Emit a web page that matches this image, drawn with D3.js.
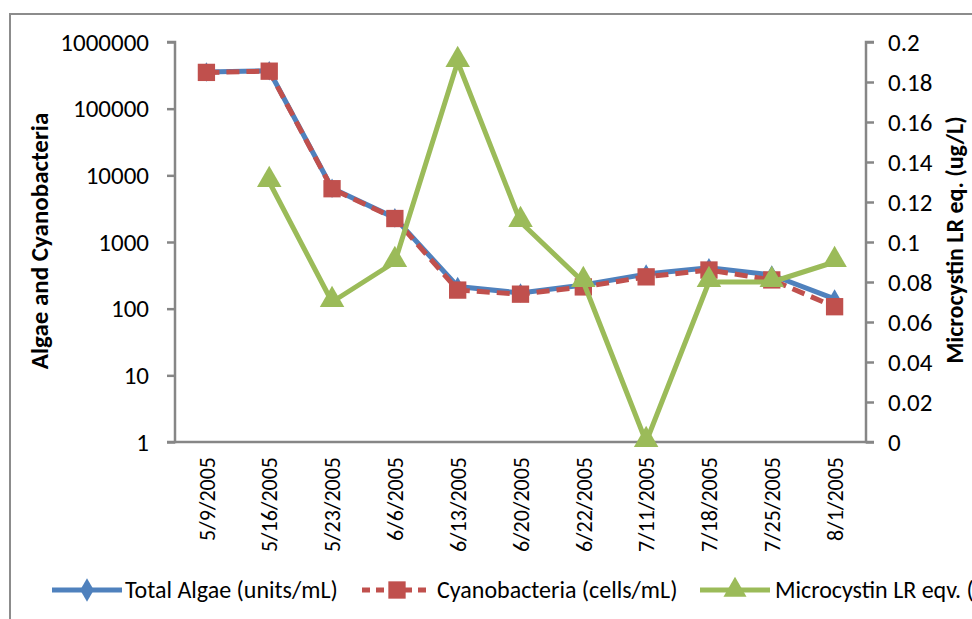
<!DOCTYPE html>
<html><head><meta charset="utf-8">
<script src="https://cdn.jsdelivr.net/npm/d3@7"></script>
<style>body{margin:0;background:#fff}svg{display:block}text{font-family:Carlito,Lato,sans-serif;fill:#000}</style>
</head><body><svg id="c" width="972" height="619"></svg>
<script>
const dates = ["5/9/2005","5/16/2005","5/23/2005","6/6/2005","6/13/2005","6/20/2005","6/22/2005","7/11/2005","7/18/2005","7/25/2005","8/1/2005"];
const totalAlgae = [355000, 370000, 6400, 2300, 215, 172, 226, 330, 410, 320, 140];
const cyanobacteria = [350000, 365000, 6300, 2250, 190, 165, 212, 300, 380, 270, 107];
const microcystin = [null, 0.13, 0.07, 0.09, 0.19, 0.11, 0.08, 0.0, 0.08, 0.08, 0.09];
const leftTicks = [1, 10, 100, 1000, 10000, 100000, 1000000];
const rightTicks = [0, 0.02, 0.04, 0.06, 0.08, 0.1, 0.12, 0.14, 0.16, 0.18, 0.2];
const seriesNames = ["Total Algae (units/mL)", "Cyanobacteria (cells/mL)", "Microcystin LR eqv. (ug/L)"];
const colors = {blue:"#4F81BD", red:"#C0504D", green:"#9BBB59", axis:"#868686"};

const svg = d3.select("#c");
const L = 175, R = 866, T = 42, B = 442;

svg.append("rect").attr("x",10).attr("y",14).attr("width",1000).attr("height",700)
  .attr("fill","none").attr("stroke","#8c8c8c").attr("stroke-width",2);

const x = d3.scalePoint().domain(dates).range([L, R]).padding(0.5);
const yL = d3.scaleLog().domain([1, 1000000]).range([B, T]);
const yR = d3.scaleLinear().domain([0, 0.2]).range([B, T]);

// axes
const gl = svg.append("g").attr("transform",`translate(${L},0)`)
  .call(d3.axisLeft(yL).tickValues(leftTicks).tickFormat(d3.format("d")).tickSize(8).tickPadding(18));
const gr = svg.append("g").attr("transform",`translate(${R},0)`)
  .call(d3.axisRight(yR).tickValues(rightTicks).tickFormat(d=>String(+d.toFixed(2))).tickSize(8).tickPadding(14));
const gb = svg.append("g").attr("transform",`translate(0,${B})`)
  .call(d3.axisBottom(x).tickSize(0).tickPadding(0));
[gl,gr,gb].forEach(g=>{
  g.select(".domain").attr("stroke",colors.axis).attr("stroke-width",2.5);
  g.selectAll(".tick line").attr("stroke",colors.axis).attr("stroke-width",2.5);
  g.selectAll("text").style("font-family","Carlito,Lato,sans-serif").attr("fill","#000");
});
gl.select(".domain").attr("d",`M-8,${T}H0V${B}H-8`);
gr.select(".domain").attr("d",`M8,${T}H0V${B}H8`);
gb.select(".domain").attr("d",`M${L},0H${R}`);
gl.selectAll("text").style("font-size","25px");
gr.selectAll("text").style("font-size","25px");
gb.selectAll("text").style("font-size","22px")
  .attr("transform","rotate(-90)").attr("text-anchor","end")
  .attr("x",-15).attr("y",0).attr("dy","0.35em");

// axis titles
svg.append("text").attr("transform",`translate(48,241) rotate(-90)`).attr("text-anchor","middle")
  .style("font-size","25px").style("font-weight","bold").text("Algae and Cyanobacteria");
svg.append("text").attr("transform",`translate(963,240) rotate(-90)`).attr("text-anchor","middle")
  .style("font-size","24px").style("font-weight","bold").text("Microcystin LR eq. (ug/L)");

const lineL = d3.line().defined(d=>d.v!=null).x(d=>x(d.k)).y(d=>yL(d.v));
const lineR = d3.line().defined(d=>d.v!=null).x(d=>x(d.k)).y(d=>yR(d.v));
const dTA = dates.map((k,i)=>({k,v:totalAlgae[i]}));
const dCY = dates.map((k,i)=>({k,v:cyanobacteria[i]}));
const dMC = dates.map((k,i)=>({k,v:microcystin[i]}));

const diamond = d3.symbol().type(d3.symbolDiamond).size(110);
const square = d3.symbol().type(d3.symbolSquare).size(300);
const tri = d3.symbol().type(d3.symbolTriangle).size(260);

// total algae
svg.append("path").datum(dTA).attr("d",lineL).attr("fill","none").attr("stroke",colors.blue).attr("stroke-width",5).attr("stroke-linejoin","round");
svg.selectAll(".ta").data(dTA).join("path").attr("d",diamond).attr("fill",colors.blue)
  .attr("transform",d=>`translate(${x(d.k)},${yL(d.v)})`);
// cyanobacteria
svg.append("path").datum(dCY).attr("d",lineL).attr("fill","none").attr("stroke",colors.red).attr("stroke-width",5).attr("stroke-dasharray","13,7");
svg.selectAll(".cy").data(dCY).join("path").attr("d",square).attr("fill",colors.red)
  .attr("transform",d=>`translate(${x(d.k)},${yL(d.v)})`);
// microcystin
svg.append("path").datum(dMC).attr("d",lineR).attr("fill","none").attr("stroke",colors.green).attr("stroke-width",5).attr("stroke-linejoin","round");
svg.selectAll(".mc").data(dMC.filter(d=>d.v!=null)).join("path").attr("d",tri).attr("fill",colors.green)
  .attr("transform",d=>`translate(${x(d.k)},${yR(d.v)-2})`);

// legend
const leg = [
  {x:52, tx:125, color:colors.blue, dash:null, sym:d3.symbol().type(d3.symbolDiamond).size(160), name:seriesNames[0]},
  {x:362, tx:437, color:colors.red, dash:"8,6", sym:d3.symbol().type(d3.symbolSquare).size(300), name:seriesNames[1]},
  {x:700, tx:775, color:colors.green, dash:null, sym:d3.symbol().type(d3.symbolTriangle).size(230), name:seriesNames[2]}
];
const ly = 590;
leg.forEach(l=>{
  svg.append("line").attr("x1",l.x).attr("x2",l.x+70).attr("y1",ly).attr("y2",ly)
    .attr("stroke",l.color).attr("stroke-width",5).attr("stroke-dasharray",l.dash);
  svg.append("path").attr("d",l.sym).attr("fill",l.color).attr("transform",`translate(${l.x+35},${ly})`);
  svg.append("text").attr("x",l.tx).attr("y",ly).attr("dy","0.35em").style("font-size","24px").text(l.name);
});
</script></body></html>
